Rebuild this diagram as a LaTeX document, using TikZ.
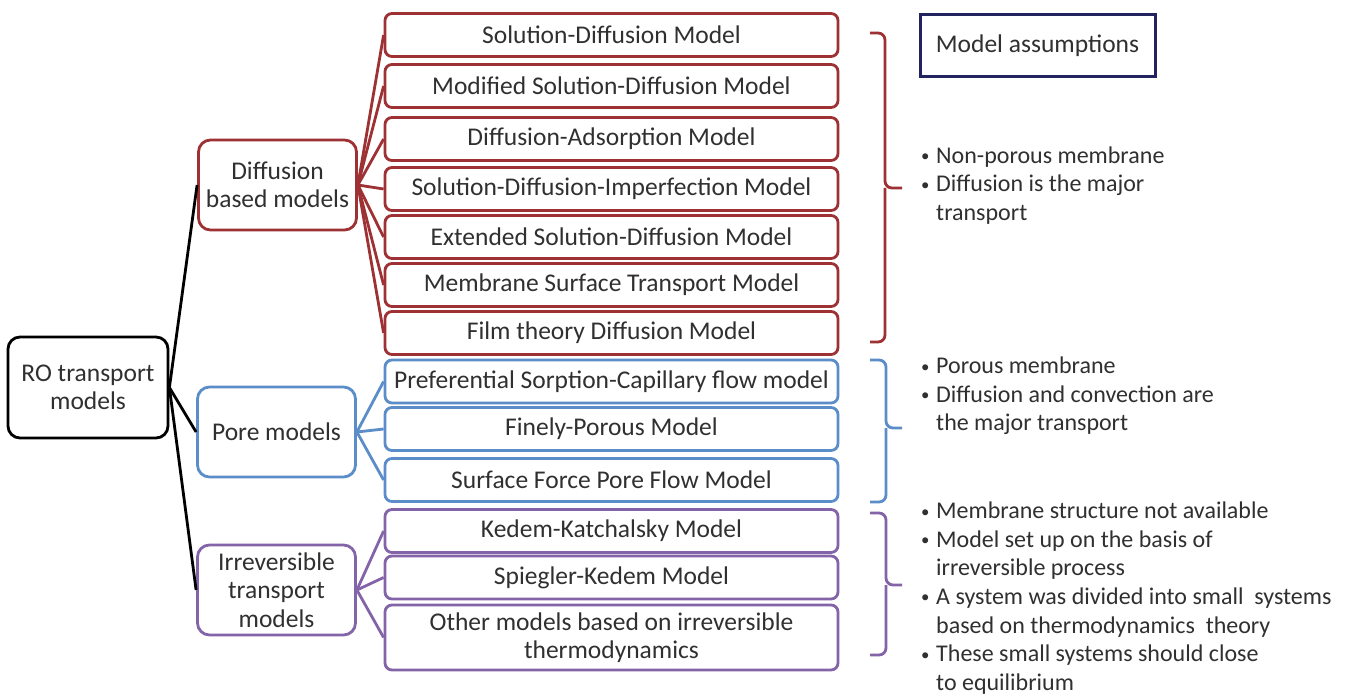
\documentclass[tikz,border=0pt]{standalone}
\usepackage{graphicx}
\usepackage{fontspec}
\setmainfont{Carlito}
\definecolor{cred}{HTML}{9E3133}
\definecolor{cblue}{HTML}{5B8DC9}
\definecolor{cpurple}{HTML}{8464A8}
\definecolor{cnavy}{HTML}{23235F}
\definecolor{ctext}{HTML}{303030}
\newcommand\bul{\makebox[15pt][l]{\raisebox{1.5pt}{\scalebox{0.7}{•}}}}
\newcommand\ind{\hspace*{15pt}}
\begin{document}
\begin{tikzpicture}[x=1pt,y=-1pt,
  font=\fontsize{25.5}{28.5}\selectfont,
  box/.style={draw, line width=2.8pt, rounded corners=7pt, fill=white, text=ctext, align=center, inner sep=0pt},
  child/.style={box, minimum width=453pt, minimum height=43pt},
  parent/.style={box, minimum width=158pt, minimum height=90pt, rounded corners=12pt},
  conn/.style={line width=2.8pt},
  brace/.style={line width=2.8pt, rounded corners=7pt},
  note/.style={anchor=west, align=left, inner sep=0pt, text=ctext, font=\fontsize{24}{28.6}\selectfont}]
\useasboundingbox (0,0) rectangle (1346,695);
\fill[white] (0,0) rectangle (1346,695);

% parents
\node[parent, draw=black, minimum width=160pt, minimum height=101pt] (root) at (88,387.5) {RO transport\\models};
\node[parent, draw=cred] (diff) at (277.5,185) {Diffusion\\based models};
\node[parent, draw=cblue] (pore) at (276.5,432) {Pore models};
\node[parent, draw=cpurple] (irr) at (276.5,590) {Irreversible\\transport\\models};

% diffusion children
\node[child, draw=cred] (d1) at (611.5,35) {Solution-Diffusion Model};
\node[child, draw=cred] (d2) at (611.5,86) {Modified Solution-Diffusion Model};
\node[child, draw=cred] (d3) at (611.5,139) {Diffusion-Adsorption Model};
\node[child, draw=cred] (d4) at (611.5,189) {Solution-Diffusion-Imperfection Model};
\node[child, draw=cred] (d5) at (611.5,237) {Extended Solution-Diffusion Model};
\node[child, draw=cred] (d6) at (611.5,285) {Membrane Surface Transport Model};
\node[child, draw=cred] (d7) at (611.5,333) {Film theory Diffusion Model};

% pore children
\node[child, draw=cblue] (p1) at (611.5,381.5) {Preferential Sorption-Capillary flow model};
\node[child, draw=cblue] (p2) at (611.5,429) {Finely-Porous Model};
\node[child, draw=cblue] (p3) at (611.5,480) {Surface Force Pore Flow Model};

% irreversible children
\node[child, draw=cpurple] (i1) at (611.5,531) {Kedem-Katchalsky Model};
\node[child, draw=cpurple] (i2) at (611.5,577.5) {Spiegler-Kedem Model};
\node[child, draw=cpurple, minimum height=65pt] (i3) at (611.5,637.5) {Other models based on irreversible\\thermodynamics};

% connectors
\foreach \c in {diff,pore,irr} \draw[conn, black] (root.east) -- (\c.west);
\foreach \c in {d1,d2,d3,d4,d5,d6,d7} \draw[conn, cred] (diff.east) -- (\c.west);
\foreach \c in {p1,p2,p3} \draw[conn, cblue] (pore.east) -- (\c.west);
\foreach \c in {i1,i2,i3} \draw[conn, cpurple] (irr.east) -- (\c.west);

% braces
\draw[brace, cred] (870,33) -| (885,188) -- (902,188);
\draw[brace, cred] (870,342) -| (885,188);
\draw[brace, cblue] (870,360) -| (886,428) -- (902,428);
\draw[brace, cblue] (870,502) -| (886,428);
\draw[brace, cpurple] (870,513) -| (886,585) -- (902,585);
\draw[brace, cpurple] (870,655) -| (886,585);

% assumptions
\node[draw=cnavy, line width=3pt, minimum width=235pt, minimum height=62pt, inner sep=0pt, text=ctext] (ma) at (1037.5,46) {Model assumptions};
\node[note] (a1) at (921,185.5) {\bul Non-porous membrane\\\bul Diffusion is the major\\\ind transport};
\node[note] (a2) at (921,396) {\bul Porous membrane\\\bul Diffusion and convection are\\\ind the major transport};
\node[note] (a3) at (921,598) {\bul Membrane structure not available\\\bul Model set up on the basis of\\\ind irreversible process\\\bul A system was divided into small\ \ systems\\\ind based on thermodynamics\ \ theory\\\bul These small systems should close\\\ind to equilibrium};
\end{tikzpicture}
\end{document}
